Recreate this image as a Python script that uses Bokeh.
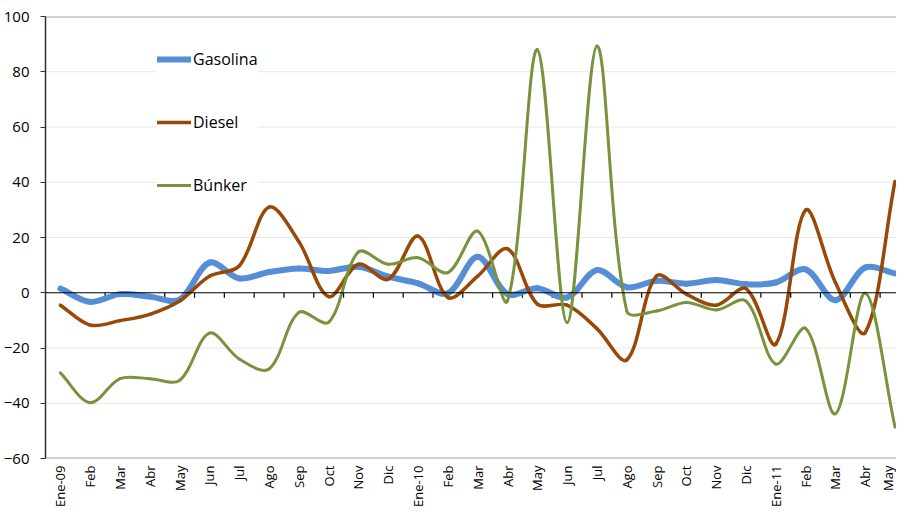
import numpy as np
from bokeh.plotting import figure
from bokeh.models import (Range1d, LinearAxis, FixedTicker, Span, Legend,
                          LegendItem, ColumnDataSource)
from bokeh.embed import file_html
from bokeh.resources import INLINE

# ---------------- data ----------------
months = ["Ene-09", "Feb", "Mar", "Abr", "May", "Jun", "Jul", "Ago", "Sep", "Oct",
          "Nov", "Dic", "Ene-10", "Feb", "Mar", "Abr", "May", "Jun", "Jul", "Ago",
          "Sep", "Oct", "Nov", "Dic", "Ene-11", "Feb", "Mar", "Abr", "May"]
gasolina = [1.5, -3.3, -0.5, -1.4, -2.5, 10.9, 5.2, 7.5, 8.8, 7.9,
            9.4, 5.8, 3.4, -0.2, 13.0, -0.5, 1.6, -1.7, 8.2, 2.0,
            4.3, 3.3, 4.6, 3.1, 3.7, 8.5, -2.7, 9.1, 7.0]
diesel = [-4.5, -11.7, -10.1, -7.8, -3.0, 6.0, 9.7, 31.0, 18.5, -1.4,
          10.3, 4.9, 20.5, -1.7, 6.0, 15.9, -4.1, -4.5, -13.0, -24.3,
          6.1, -0.5, -4.5, 1.5, -18.6, 29.9, 3.7, -14.4, 40.3]
bunker = [-29.0, -39.8, -31.1, -31.1, -31.7, -14.6, -24.0, -27.6, -7.1, -10.7,
          14.8, 10.3, 12.7, 7.3, 22.3, -2.9, 88.0, -10.8, 89.3, -6.6,
          -6.6, -3.5, -6.2, -3.0, -25.8, -12.9, -43.8, -0.2, -48.6]
series_names = ["Gasolina", "Diesel", "Búnker"]
y_ticks = [-60, -40, -20, 0, 20, 40, 60, 80, 100]

colors = ["#558ED5", "#984807", "#77933C"]
widths = [6, 3.5, 3]

n = len(months)
X_START, X_END = -0.5, n - 0.95
FRAME_W, FRAME_H = 852, 444
PX_X = FRAME_W / (X_END - X_START)
PX_Y = FRAME_H / (y_ticks[-1] - y_ticks[0])


def smooth_source(vals, t=1.0 / 6.0):
    """Length-weighted Catmull-Rom Bezier segments (spreadsheet-style smoothing)."""
    y = np.asarray(vals, dtype=float)
    m = len(y)
    x = np.arange(m, dtype=float)
    xp = np.concatenate([[x[0]], x, [x[-1]]])
    yp = np.concatenate([[y[0]], y, [y[-1]]])
    tx = xp[2:] - xp[:-2]
    ty = yp[2:] - yp[:-2]
    lp = np.hypot((x - xp[:-2]) * PX_X, (y - yp[:-2]) * PX_Y)
    ln = np.hypot((xp[2:] - x) * PX_X, (yp[2:] - y) * PX_Y)
    tot = lp + ln
    fo = t * 2 * ln / tot
    fi = t * 2 * lp / tot
    ox, oy = x + tx * fo, y + ty * fo
    ix, iy = x - tx * fi, y - ty * fi
    return ColumnDataSource(dict(x0=x[:-1], y0=y[:-1], x1=x[1:], y1=y[1:],
                                 cx0=ox[:-1], cy0=oy[:-1], cx1=ix[1:], cy1=iy[1:]))


p = figure(width=896, height=510, output_backend="svg", toolbar_location=None,
           x_range=Range1d(X_START, X_END), y_range=Range1d(y_ticks[0], y_ticks[-1]),
           x_axis_location=None, y_axis_location=None,
           min_border_left=44, min_border_right=0, min_border_top=16,
           min_border_bottom=50)
p.outline_line_color = None
p.background_fill_color = "white"
p.border_fill_color = "white"
p.xgrid.visible = False
p.ygrid.visible = False

# dotted grid lines at the y ticks
for v in y_ticks[1:-1]:
    if v != 0:
        p.add_layout(Span(location=v, dimension="width", line_color="#cfcfcf",
                          line_width=1, line_dash="1 1", level="underlay"))
# top & bottom frame borders
for v in (y_ticks[0], y_ticks[-1]):
    p.add_layout(Span(location=v, dimension="width", line_color="#a6a6a6",
                      line_width=2, level="underlay"))

# left value axis
yax = LinearAxis(ticker=FixedTicker(ticks=y_ticks))
yax.axis_line_color = "#333333"
yax.axis_line_width = 1.5
yax.major_tick_line_color = "#333333"
yax.major_tick_out = 5
yax.major_tick_in = 0
yax.minor_tick_line_color = None
yax.major_label_standoff = 11
yax.major_label_text_font = "Open Sans"
yax.major_label_text_font_size = "15px"
yax.major_label_text_color = "black"
p.add_layout(yax, "left")

# zero line with category-boundary ticks
p.add_layout(Span(location=0, dimension="width", line_color="black", line_width=1.2))
boundaries = np.arange(n - 1) + 0.5
tick_len = 5.0 / PX_Y
p.segment(x0=boundaries, y0=np.zeros(n - 1), x1=boundaries,
          y1=np.zeros(n - 1) - tick_len, line_color="black", line_width=1.2)

# category labels along the bottom
xax = LinearAxis(ticker=FixedTicker(ticks=list(range(n))))
xax.major_label_overrides = {i: m for i, m in enumerate(months)}
xax.axis_line_color = None
xax.major_tick_line_color = None
xax.minor_tick_line_color = None
xax.major_tick_out = 0
xax.major_tick_in = 0
xax.major_label_orientation = np.pi / 2
xax.major_label_standoff = 7
xax.major_label_text_font = "Open Sans"
xax.major_label_text_font_size = "13px"
xax.major_label_text_color = "black"
p.add_layout(xax, "below")

renderers = []
for vals, c, w in zip([gasolina, diesel, bunker], colors, widths):
    src = smooth_source(vals)
    r = p.bezier(x0="x0", y0="y0", x1="x1", y1="y1", cx0="cx0", cy0="cy0",
                 cx1="cx1", cy1="cy1", source=src, line_color=c, line_width=w,
                 line_cap="round")
    renderers.append(r)

items = [LegendItem(label=name, renderers=[r]) for name, r in zip(series_names, renderers)]
legend = Legend(items=items, location=(112, 262))
legend.border_line_color = None
legend.background_fill_color = "white"
legend.background_fill_alpha = 1.0
legend.label_text_font = "Open Sans"
legend.label_text_font_size = "16px"
legend.label_text_color = "black"
legend.glyph_width = 34
legend.glyph_height = 22
legend.label_height = 22
legend.label_standoff = 2
legend.spacing = 41
legend.padding = 14
legend.margin = 0
p.add_layout(legend)

open("out.html", "w").write(file_html(p, INLINE))
